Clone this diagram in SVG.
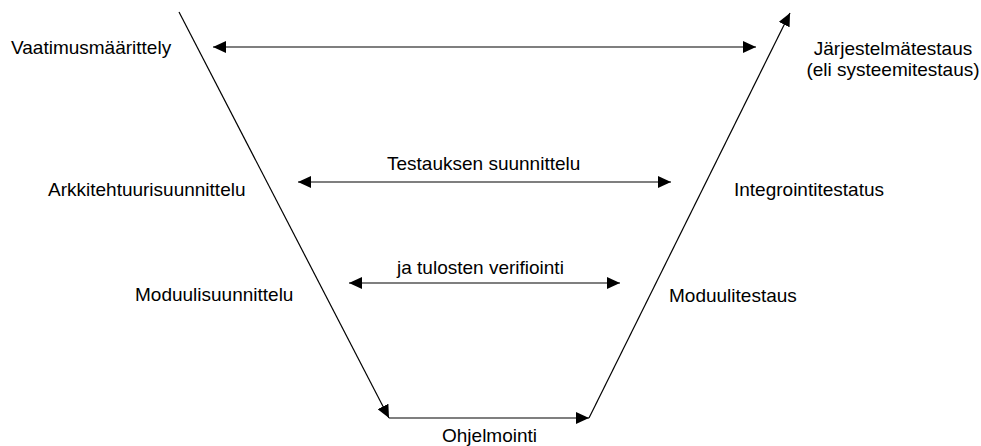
<svg xmlns="http://www.w3.org/2000/svg" width="981" height="446" viewBox="0 0 981 446">
  <style>
    .lbl { font-family: "Liberation Sans", Arial, sans-serif; font-size: 19px; fill: #000; }
    .ln { stroke: #000; stroke-width: 1.2; fill: none; }
  </style>
  <defs>
    <marker id="head" markerUnits="userSpaceOnUse" markerWidth="14" markerHeight="12" refX="13" refY="6" orient="auto-start-reverse">
      <path d="M0,0 L13,6 L0,12 z" fill="#000"/>
    </marker>
  </defs>
  <rect width="981" height="446" fill="#fff"/>

  <!-- V-model connectors -->
  <g id="connectors">
    <line class="ln" x1="179" y1="12" x2="389" y2="418" marker-end="url(#head)"/>
    <line class="ln" x1="389" y1="418" x2="589" y2="418" marker-end="url(#head)"/>
    <line class="ln" x1="589" y1="418" x2="790" y2="13" marker-end="url(#head)"/>
    <line class="ln" x1="213" y1="47" x2="756" y2="47" marker-start="url(#head)" marker-end="url(#head)"/>
    <line class="ln" x1="298" y1="182" x2="671" y2="182" marker-start="url(#head)" marker-end="url(#head)"/>
    <line class="ln" x1="349" y1="283" x2="620" y2="283" marker-start="url(#head)" marker-end="url(#head)"/>
  </g>

  <g id="vaatimusmaarittely"><text class="lbl" x="11" y="54">Vaatimusmäärittely</text></g>
  <g id="jarjestelmatestaus">
    <text class="lbl" x="893" y="55" text-anchor="middle">Järjestelmätestaus</text>
    <text class="lbl" x="893" y="76" text-anchor="middle">(eli systeemitestaus)</text>
  </g>
  <g id="testauksen-suunnittelu"><text class="lbl" x="387" y="170">Testauksen suunnittelu</text></g>
  <g id="arkkitehtuurisuunnittelu"><text class="lbl" x="48" y="196">Arkkitehtuurisuunnittelu</text></g>
  <g id="integrointitestatus"><text class="lbl" x="734" y="196">Integrointitestatus</text></g>
  <g id="tulosten-verifiointi"><text class="lbl" x="397" y="274">ja tulosten verifiointi</text></g>
  <g id="moduulisuunnittelu"><text class="lbl" x="135" y="301">Moduulisuunnittelu</text></g>
  <g id="moduulitestaus"><text class="lbl" x="669" y="302">Moduulitestaus</text></g>
  <g id="ohjelmointi"><text class="lbl" x="442" y="442">Ohjelmointi</text></g>
</svg>
